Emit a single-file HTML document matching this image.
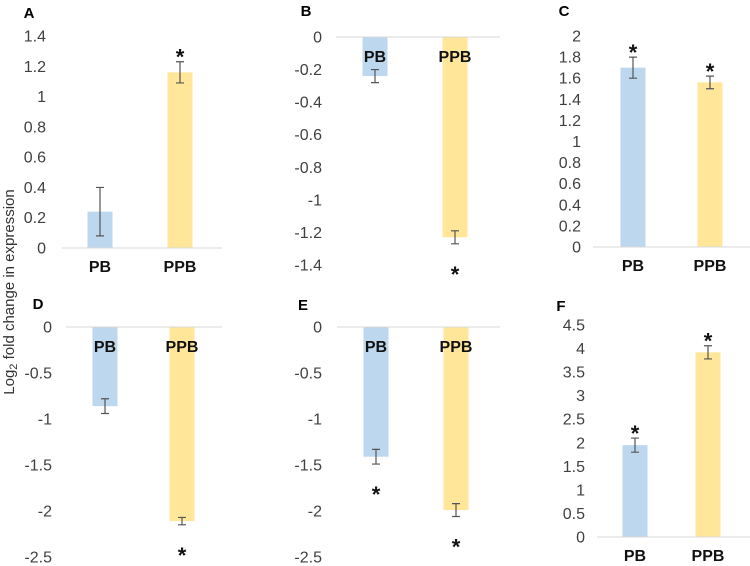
<!DOCTYPE html>
<html><head><meta charset="utf-8"><style>
body{margin:0;background:#fff;}
svg{display:block;font-family:"Liberation Sans",Arial,sans-serif;}
</style></head><body>
<svg id="fig" width="750" height="566" viewBox="0 0 750 566">
<text x="14" y="292" font-size="15" fill="#333" text-anchor="middle" transform="rotate(-90 14 292)">Log<tspan font-size="11" dy="3">2</tspan><tspan dy="-3"> fold change in expression</tspan></text>
</svg>
<script>
const categories = ["PB", "PPB"];
const panelLetters = ["A", "B", "C", "D", "E", "F"];
const valuesA = [0.24, 1.16]; const errA = [0.16, 0.07];
const valuesB = [-0.24, -1.23]; const errB = [0.04, 0.04];
const valuesC = [1.70, 1.56]; const errC = [0.10, 0.06];
const valuesD = [-0.86, -2.11]; const errD = [0.08, 0.04];
const valuesE = [-1.41, -1.99]; const errE = [0.08, 0.07];
const valuesF = [1.95, 3.92]; const errF = [0.15, 0.14];
const ticksA = [0, 0.2, 0.4, 0.6, 0.8, 1, 1.2, 1.4];
const ticksB = [0, -0.2, -0.4, -0.6, -0.8, -1, -1.2, -1.4];
const ticksC = [0, 0.2, 0.4, 0.6, 0.8, 1, 1.2, 1.4, 1.6, 1.8, 2];
const ticksD = [0, -0.5, -1, -1.5, -2, -2.5];
const ticksE = [0, -0.5, -1, -1.5, -2, -2.5];
const ticksF = [0, 0.5, 1, 1.5, 2, 2.5, 3, 3.5, 4, 4.5];
const sigA = [false, true], sigB = [false, true], sigC = [true, true];
const sigD = [false, true], sigE = [true, true], sigF = [true, true];

const NS = "http://www.w3.org/2000/svg";
const svg = document.getElementById("fig");
function mk(tag, attrs, parent) {
  const e = document.createElementNS(NS, tag);
  for (const k in attrs) e.setAttribute(k, attrs[k]);
  (parent || svg).appendChild(e);
  return e;
}
const colors = ["#bdd7ee", "#ffe699"];
const layouts = [
  {lx:29, ly:18, lr:46, ax0:62, ax1:222, cx:[100,180], yT:36, yB:248, vT:1.4, vB:0},
  {lx:306, ly:16, lr:322, ax0:336, ax1:500, cx:[375,455], yT:37, yB:265, vT:0, vB:-1.4},
  {lx:564, ly:16, lr:581, ax0:593, ax1:750, cx:[633,710], yT:36, yB:247, vT:2, vB:0},
  {lx:38, ly:309, lr:52, ax0:66, ax1:222, cx:[105,182], yT:327, yB:557, vT:0, vB:-2.5},
  {lx:303, ly:310, lr:322, ax0:337, ax1:500, cx:[376,456], yT:327, yB:557, vT:0, vB:-2.5},
  {lx:561, ly:311, lr:585, ax0:597, ax1:750, cx:[635,708], yT:325, yB:537, vT:4.5, vB:0}
];
const allValues = [valuesA, valuesB, valuesC, valuesD, valuesE, valuesF];
const allErr = [errA, errB, errC, errD, errE, errF];
const allTicks = [ticksA, ticksB, ticksC, ticksD, ticksE, ticksF];
const allSig = [sigA, sigB, sigC, sigD, sigE, sigF];

allValues.forEach((vals, p) => {
  const L = layouts[p];
  const g = mk("g", {});
  
  
  const y = v => L.yT + (L.vT - v) / (L.vT - L.vB) * (L.yB - L.yT);
  const neg = L.vT === 0;
  const lt = mk("text", {x:L.lx, y:L.ly, "font-size":15, "font-weight":"bold", fill:"#000", "text-anchor":"middle"}, g);
  lt.textContent = panelLetters[p];
  
  
  allTicks[p].forEach(t => {
    const tx = mk("text", {x:L.lr, y:y(t)+5.5, "font-size":16, fill:"#404040", "text-anchor":"end"}, g);
    tx.textContent = String(t);
    
    
  });
  vals.forEach((v, i) => {
    const cx = L.cx[i];
    const y0 = y(0), yv = y(v);
    const r = mk("rect", {x:cx-12.5, y:Math.min(y0,yv), width:25, height:Math.abs(yv-y0), fill:colors[i]}, g);
    
    
    const e = allErr[p][i];
    const y1 = y(v+e), y2 = y(v-e);
    const eb = mk("path", {d:`M${cx},${y1}V${y2}M${cx-4},${y1}H${cx+4}M${cx-4},${y2}H${cx+4}`, stroke:"#555", "stroke-width":1.2, fill:"none"}, g);
    
    
    const lab = mk("text", {x:cx, y: neg ? y0+25 : y0+24, "font-size":16, "font-weight":"bold", fill:"#111", "text-anchor":"middle"}, g);
    lab.textContent = categories[i];
    
    
    if (allSig[p][i]) {
      const sy = neg ? Math.max(y1,y2) + 38 : Math.min(y1,y2) + 3;
      const st = mk("text", {x:cx, y:sy, "font-size":22, "font-weight":"bold", fill:"#111", "text-anchor":"middle"}, g);
      st.textContent = "*";
      
      
    }
  });
  const ax = mk("line", {x1:L.ax0, x2:L.ax1, y1:y(0), y2:y(0), stroke:"#d9d9d9", "stroke-width":1}, g);
  
  
});
</script>
</body></html>
